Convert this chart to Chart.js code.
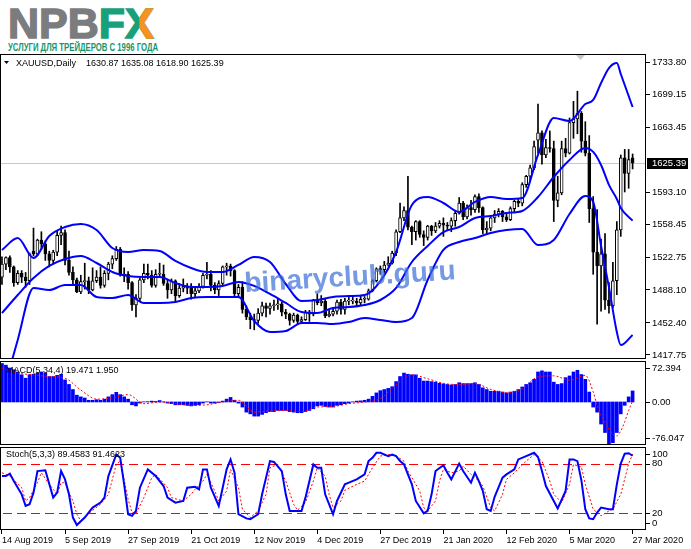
<!DOCTYPE html>
<html>
<head>
<meta charset="utf-8">
<script src="https://cdn.jsdelivr.net/npm/chart.js@4.4.1/dist/chart.umd.min.js"></script>
<style>
    body { margin: 0; background: #fff; width: 691px; height: 549px; overflow: hidden; position: relative; }
    canvas { position: absolute; left: 0; }
    #logo { position: absolute; left: 8px; top: 2px; font: bold 43px/43px 'Liberation Sans', Arial, sans-serif; white-space: nowrap; }
    #logo span { -webkit-text-stroke: 1.4px currentColor; }
    #logo .grey { color: #7b7c7e; }
    #logo .green { color: #17a07a; }
    #logo .xwrap { position: relative; display: inline-block; -webkit-text-stroke: 0; }
    #logo .xo { position: absolute; left: 0; top: 0; color: #f39322; clip-path: inset(0 0 0 50%); }
    #slogan { position: absolute; left: 8px; top: 41px; font: bold 11px/12px 'Liberation Sans', Arial, sans-serif; color: #13966c; white-space: nowrap; transform: scaleX(0.705); transform-origin: 0 0; }
</style>
</head>
<body>
<div id="logo"><span class="grey">NPB</span><span class="green">F</span><span class="xwrap"><span class="green">X</span><span class="xo">X</span></span></div>
<div id="slogan">УСЛУГИ ДЛЯ ТРЕЙДЕРОВ С 1996 ГОДА</div>
<canvas id="mainChart" width="691" height="308" style="top:54px"></canvas>
<canvas id="macdChart" width="691" height="84" style="top:361px"></canvas>
<canvas id="stochChart" width="691" height="102" style="top:447px"></canvas>
<script>
// XAUUSD daily, 14 Aug 2019 - 27 Mar 2020 (bar index 0..160)
const dateTickIdx = [0, 16, 32, 48, 64, 80, 96, 112, 128, 144, 160];
const dateLabels = ['14 Aug 2019', '5 Sep 2019', '27 Sep 2019', '21 Oct 2019', '12 Nov 2019', '4 Dec 2019',
    '27 Dec 2019', '21 Jan 2020', '12 Feb 2020', '5 Mar 2020', '27 Mar 2020'];

const openPrices = [
    1502, 1516, 1523, 1513, 1496, 1506, 1502, 1498, 1530, 1527,
    1542, 1538, 1527, 1520, 1529, 1547, 1550, 1520, 1507, 1499,
    1486, 1497, 1498, 1488, 1498, 1502, 1493, 1506, 1516, 1522,
    1532, 1504, 1505, 1496, 1472, 1479, 1499, 1506, 1504, 1493,
    1505, 1505, 1495, 1488, 1498, 1482, 1490, 1492, 1490, 1484,
    1487, 1492, 1504, 1505, 1493, 1488, 1495, 1513, 1514, 1509,
    1484, 1491, 1467, 1459, 1456, 1455, 1463, 1471, 1468, 1471,
    1472, 1473, 1464, 1462, 1455, 1461, 1454, 1456, 1464, 1462,
    1477, 1474, 1476, 1460, 1462, 1465, 1475, 1467, 1476, 1476,
    1476, 1474, 1478, 1478, 1487, 1498, 1511, 1510, 1515, 1517,
    1528, 1551, 1566, 1574, 1556, 1551, 1562, 1548, 1545, 1557,
    1552, 1557, 1560, 1558, 1557, 1563, 1571, 1582, 1567, 1577,
    1575, 1589, 1577, 1553, 1555, 1566, 1570, 1573, 1567, 1564,
    1576, 1584, 1582, 1602, 1611, 1620, 1650, 1658, 1634, 1642,
    1641, 1585, 1593, 1641, 1636, 1669, 1673, 1679, 1649, 1636,
    1576, 1529, 1514, 1527, 1477, 1471, 1498, 1553, 1631, 1614,
    1630.87
];
const highPrices = [
    1524, 1524, 1525, 1514, 1509, 1509, 1507, 1528, 1555, 1543,
    1551, 1541, 1530, 1531, 1552, 1557, 1553, 1530, 1513, 1501,
    1504, 1517, 1502, 1512, 1509, 1513, 1509, 1518, 1525, 1535,
    1534, 1512, 1508, 1497, 1483, 1501, 1516, 1516, 1509, 1510,
    1517, 1515, 1499, 1500, 1499, 1495, 1500, 1495, 1495, 1490,
    1495, 1506, 1518, 1509, 1496, 1498, 1514, 1517, 1516, 1510,
    1494, 1497, 1471, 1463, 1462, 1468, 1475, 1474, 1474, 1477,
    1478, 1475, 1467, 1463, 1463, 1462, 1459, 1466, 1466, 1478,
    1484, 1482, 1479, 1466, 1469, 1477, 1478, 1479, 1480, 1481,
    1479, 1482, 1481, 1489, 1499, 1512, 1514, 1519, 1524, 1530,
    1553, 1582, 1578, 1611, 1557, 1563, 1563, 1552, 1558, 1558,
    1561, 1563, 1566, 1561, 1566, 1574, 1588, 1584, 1580, 1585,
    1591, 1592, 1578, 1562, 1567, 1574, 1576, 1574, 1572, 1578,
    1585, 1586, 1604, 1612, 1623, 1649, 1689, 1660, 1651, 1660,
    1649, 1611, 1649, 1652, 1674, 1692, 1703, 1681, 1670, 1655,
    1589, 1575, 1543, 1549, 1496, 1518, 1562, 1634, 1640, 1640,
    1635.08
];
const lowPrices = [
    1494, 1510, 1507, 1492, 1494, 1496, 1491, 1494, 1525, 1525,
    1532, 1520, 1513, 1517, 1525, 1537, 1515, 1504, 1494, 1485,
    1484, 1489, 1484, 1487, 1496, 1490, 1491, 1499, 1511, 1520,
    1503, 1497, 1489, 1466, 1459, 1476, 1496, 1500, 1491, 1491,
    1502, 1493, 1479, 1484, 1476, 1480, 1486, 1484, 1478, 1480,
    1485, 1490, 1500, 1487, 1484, 1482, 1493, 1504, 1503, 1481,
    1480, 1463, 1456, 1446, 1445, 1452, 1460, 1459, 1462, 1466,
    1467, 1460, 1457, 1450, 1453, 1451, 1452, 1455, 1454, 1460,
    1472, 1471, 1458, 1459, 1460, 1462, 1462, 1462, 1472, 1473,
    1471, 1472, 1474, 1477, 1486, 1497, 1505, 1507, 1514, 1516,
    1525, 1550, 1563, 1553, 1537, 1542, 1545, 1536, 1542, 1547,
    1550, 1555, 1546, 1552, 1551, 1557, 1570, 1564, 1565, 1569,
    1572, 1572, 1549, 1548, 1552, 1561, 1567, 1562, 1562, 1563,
    1572, 1578, 1579, 1599, 1605, 1618, 1636, 1624, 1631, 1637,
    1562, 1578, 1591, 1632, 1635, 1652, 1657, 1637, 1633, 1561,
    1505, 1451, 1465, 1467, 1463, 1469, 1483, 1546, 1594, 1598,
    1618.90
];
const closePrices = [
    1516, 1523, 1513, 1496, 1506, 1502, 1498, 1527, 1527, 1542,
    1538, 1527, 1520, 1529, 1547, 1550, 1520, 1507, 1499, 1486,
    1497, 1498, 1488, 1498, 1502, 1493, 1506, 1516, 1522, 1532,
    1504, 1505, 1496, 1472, 1479, 1499, 1506, 1504, 1493, 1505,
    1505, 1495, 1488, 1498, 1482, 1490, 1492, 1490, 1484, 1487,
    1492, 1504, 1505, 1493, 1488, 1495, 1513, 1514, 1509, 1484,
    1491, 1467, 1459, 1456, 1455, 1463, 1471, 1468, 1471, 1472,
    1473, 1464, 1462, 1455, 1461, 1454, 1456, 1464, 1462, 1477,
    1474, 1476, 1460, 1462, 1465, 1475, 1467, 1476, 1476, 1476,
    1474, 1478, 1478, 1487, 1498, 1511, 1510, 1515, 1517, 1528,
    1551, 1566, 1574, 1556, 1551, 1562, 1548, 1545, 1557, 1552,
    1557, 1560, 1558, 1557, 1563, 1571, 1582, 1567, 1577, 1575,
    1589, 1577, 1553, 1555, 1566, 1570, 1573, 1567, 1564, 1576,
    1584, 1582, 1602, 1611, 1620, 1643, 1658, 1634, 1642, 1641,
    1585, 1593, 1641, 1636, 1669, 1673, 1679, 1649, 1636, 1576,
    1529, 1514, 1527, 1477, 1471, 1498, 1553, 1631, 1614, 1629,
    1625.39
];

// Bollinger bands at these bar indices
const bandIdx = [0, 4, 8, 12, 16, 20, 24, 28, 32, 36, 40, 44, 48, 52, 56, 60, 64, 68, 72, 76,
    80, 84, 88, 92, 96, 100, 104, 108, 112, 116, 120, 124, 128, 132, 136, 140, 144, 148,
    150, 152, 154, 156, 157, 160];
const bandUpper = [1531.3, 1544.2, 1522.6, 1546.4, 1556.1, 1559.4, 1552.9, 1533.4, 1529.1, 1531.3,
    1530.2, 1519.4, 1511.8, 1507.5, 1507.5, 1515.1, 1523.7, 1518.3, 1494.5, 1476.1,
    1477.2, 1480.5, 1481.5, 1482.6, 1497.7, 1529.1, 1579.9, 1588.6, 1582.1, 1572.4,
    1583.2, 1588.6, 1586.4, 1587.5, 1634.0, 1674.0, 1670.8, 1689.1,
    1693.5, 1711.8, 1728.0, 1733.5, 1721.6, 1685.9];
const bandMiddle = [1463.1, 1482.6, 1501.0, 1514.0, 1521.5, 1524.8, 1517.2, 1507.5, 1503.2, 1502.1,
    1502.1, 1495.6, 1491.3, 1491.3, 1492.4, 1496.7, 1492.4, 1483.7, 1474.0, 1464.2,
    1463.1, 1468.6, 1469.6, 1471.8, 1477.2, 1490.2, 1518.3, 1535.6, 1550.7, 1556.1,
    1565.9, 1568.0, 1571.3, 1573.5, 1588.6, 1610.2, 1628.6, 1641.6,
    1637.3, 1623.2, 1601.6, 1586.4, 1576.7, 1563.0];
const bandLower = [1372.3, 1434.0, 1490.2, 1488.0, 1493.4, 1493.4, 1480.5, 1479.4, 1482.6, 1474.0,
    1474.0, 1475.1, 1479.4, 1480.5, 1480.5, 1480.5, 1454.5, 1442.6, 1443.7, 1452.3,
    1452.3, 1451.2, 1453.4, 1457.7, 1455.6, 1453.4, 1457.7, 1498.8, 1531.3, 1539.9,
    1544.2, 1549.7, 1552.9, 1554.0, 1536.7, 1542.1, 1570.2, 1589.7,
    1583.2, 1535.6, 1491.1, 1442.6, 1428.5, 1439.4];

const priceTicks = [1733.80, 1699.15, 1663.45, 1593.10, 1558.45, 1522.75, 1488.10, 1452.40, 1417.75];
const lastPrice = 1625.39;

// MACD(5,34,4): one histogram value per bar, signal read at these bars
const macdValues = [
    68, 65, 60, 57, 53, 48, 42, 48, 49, 51,
    53, 51, 45, 45, 47, 49, 39, 31, 22, 12,
    9, 7, 3, 3, 4, 3, 5, 9, 13, 17,
    13, 9, 5, -5, -7, -2, 0.3, 0.5, 1.5, 1,
    2.5, 0.3, -2, -3, -5, -5, -5, -6, -7, -6,
    -5, -2, 0.3, -2, -2, -1, 1.5, 5, 8, 3,
    -2, -9, -18, -21, -25, -25, -22, -19, -17, -17,
    -15, -15, -15, -17, -18, -19, -19, -17, -15, -12,
    -7, -6, -8, -9, -9, -6, -5, -3, -2, 0.3,
    1.5, 2, 3, 5, 10, 16, 20, 22, 24, 27,
    36, 45, 51, 49, 48, 48, 42, 37, 37, 36,
    35, 33, 32, 31, 30, 31, 34, 32.5, 32.5, 32.5,
    34, 31, 25, 22, 19, 19, 19, 17.5, 16, 17.5,
    19, 22, 26.5, 31, 34, 40, 53, 55, 53, 53,
    35, 31, 32.5, 43, 46, 53, 56, 48.5, 40, 17.5,
    -9, -18, -39, -54, -76.047, -72, -54, -21, -6, 9,
    19.471
];
const macdSignalIdx = [0, 4, 8, 12, 16, 20, 24, 28, 32, 36, 40, 44, 48, 52, 56, 60, 64, 68, 72, 76,
    80, 84, 88, 92, 96, 100, 104, 108, 112, 116, 120, 124, 128, 132, 136, 140, 144, 148,
    150, 151, 153, 155, 156, 157, 158, 159, 160];
const macdSignal = [60, 51, 48, 45, 42, 21, 5, 7, 13, -3, 0, -3, -6, -5, 0, 3, -18, -16, -15, -17,
    -9, -8, -3, 0, 6, 30, 48, 41, 33, 30.6, 32.5, 22.3, 16.4, 23.5, 44.4, 46.2, 38.4, 47,
    18, -6, -36, -57, -60, -51, -35, -15, 1.95];
const macdRange = [-76.047, 72.394];
const macdAxisLabels = [72.394, 0, -76.047];

// Stochastic(5,3,3)
const stochMainIdx = [0, 1, 2, 3, 5, 6, 7, 8, 9, 11, 13, 14, 15, 16, 17, 18, 19, 21, 23, 25,
    26, 27, 29, 30, 31, 32, 33, 34, 35, 37, 39, 41, 42, 44, 46, 47, 49, 50, 51, 52,
    53, 55, 56, 57, 58, 59, 60, 62, 63, 65, 66, 68, 69, 71, 72, 73, 74, 76, 77, 79,
    80, 81, 82, 84, 85, 87, 88, 90, 92, 93, 94, 95, 96, 98, 99, 100, 101, 102, 104, 105,
    107, 108, 109, 110, 112, 113, 114, 116, 117, 119, 120, 121, 122, 123, 124, 125, 127, 128, 130, 131,
    133, 135, 136, 137, 138, 140, 141, 143, 144, 145, 146, 147, 148, 149, 150, 151, 152, 154, 155, 156,
    157, 158, 159, 160];
const stochMain = [65, 65, 68, 59, 43, 29, 31, 45, 71, 72, 39, 45, 71, 61, 43, 15, 6, 15, 27, 33,
    39, 65, 91, 87, 55, 19, 17, 23, 51, 73, 65, 53, 39, 33, 35, 51, 52, 49, 73, 73,
    51, 29, 51, 73, 85, 69, 19, 14, 13, 19, 43, 83, 82, 71, 43, 23, 23, 23, 39, 79,
    75, 75, 43, 19, 35, 55, 57, 61, 67, 83, 87, 93, 93, 89, 91, 89, 83, 79, 55, 35,
    20, 23, 43, 71, 78, 69, 61, 80, 71, 57, 69, 59, 47, 25, 23, 40, 63, 67, 73, 85,
    89, 93, 88, 71, 53, 35, 26, 47, 85, 85, 83, 60, 25, 14, 13, 21, 27, 25, 25, 55,
    80, 92, 92.5, 89.4583];
const stochSignalIdx = [0, 2, 5, 6, 7, 9, 10, 12, 14, 15, 16, 17, 18, 19, 20, 22, 25, 27, 29, 30,
    32, 33, 34, 36, 38, 39, 42, 43, 46, 48, 49, 51, 52, 54, 55, 57, 58, 60, 61, 63,
    65, 67, 68, 70, 72, 74, 75, 77, 79, 80, 82, 83, 84, 86, 87, 90, 92, 94, 96, 98,
    100, 102, 103, 106, 107, 108, 110, 111, 112, 114, 116, 117, 119, 121, 122, 124, 125, 127, 128, 130,
    133, 135, 137, 139, 140, 142, 144, 145, 147, 148, 150, 152, 154, 155, 157, 159, 160];
const stochSignal = [69, 65, 51, 35, 39, 57, 69, 55, 43, 57, 57, 45, 35, 19, 11, 20, 31, 43, 79, 83,
    37, 21, 20, 39, 63, 67, 51, 39, 35, 43, 49, 59, 67, 47, 35, 47, 73, 51, 25, 15,
    23, 43, 75, 79, 59, 31, 24, 33, 59, 75, 65, 43, 27, 35, 48, 55, 59, 75, 89, 91,
    89, 83, 71, 47, 27, 23, 35, 59, 73, 69, 71, 77, 67, 59, 53, 27, 23, 43, 61, 69,
    83, 91, 83, 59, 43, 33, 55, 79, 76, 55, 25, 17, 23, 25, 43, 80, 91.4623];
const stochAxisLabels = [100, 80, 20, 0];
const stochLevels = [80, 20];

const fontFamily = "'Liberation Sans', Arial, sans-serif";
Chart.defaults.font.family = fontFamily;
Chart.defaults.color = '#000';

function points(idx, values) {
    return idx.map((x, k) => ({ x: x, y: values[k] }));
}

function dateAxis(show) {
    return {
        type: 'linear',
        min: -0.5,
        max: 163.4,
        offset: false,
        display: show,
        border: { display: false },
        grid: { drawOnChartArea: false, offset: false, color: '#000', tickLength: 4 },
        afterBuildTicks: scale => { scale.ticks = dateTickIdx.map(v => ({ value: v })); },
        afterFit: scale => {
            scale.height = show ? 19 : 0;
            scale.paddingLeft = 0;
            scale.paddingRight = 0;
        },
        ticks: {
            autoSkip: false,
            maxRotation: 0,
            minRotation: 0,
            align: 'start',
            padding: 1,
            font: { size: 9 },
            callback: value => dateLabels[dateTickIdx.indexOf(value)]
        }
    };
}

function fitRightAxis(scale) {
    scale.width = 45;
    scale.paddingTop = 0;
    scale.paddingBottom = 0;
}

function sideAxis(min, max) {
    return {
        type: 'linear',
        position: 'right',
        min: min,
        max: max,
        border: { display: false },
        grid: { display: false },
        ticks: { display: false },
        afterFit: fitRightAxis
    };
}

function baseOptions(x, y) {
    return {
        responsive: false,
        animation: false,
        events: [],
        layout: { padding: 0 },
        plugins: { legend: { display: false }, tooltip: { enabled: false } },
        scales: { x: x, y: y }
    };
}

const frame = {
    id: 'frame',
    afterDraw(chart) {
        const { ctx, chartArea: a } = chart;
        ctx.save();
        ctx.strokeStyle = '#000';
        ctx.lineWidth = 1;
        ctx.strokeRect(a.left + 0.5, a.top + 0.5, a.right - a.left - 1, a.bottom - a.top - 1);
        ctx.restore();
    }
};

function sideLabels(values, format) {
    return {
        id: 'sideLabels',
        afterDraw(chart) {
            const { ctx, chartArea: a, scales: { y } } = chart;
            ctx.save();
            ctx.font = '9.5px ' + fontFamily;
            ctx.fillStyle = '#000';
            ctx.strokeStyle = '#000';
            ctx.textBaseline = 'middle';
            values.forEach(v => {
                let py = y.getPixelForValue(v);
                py = Math.min(Math.max(py, a.top + 7), a.bottom - 7);
                const ly = Math.round(py) + 0.5;
                ctx.beginPath();
                ctx.moveTo(a.right, ly);
                ctx.lineTo(a.right + 4, ly);
                ctx.stroke();
                ctx.fillText(format(v), a.right + 6, py);
            });
            ctx.restore();
        }
    };
}

function panelTitle(text, y) {
    return {
        id: 'panelTitle',
        afterDraw(chart) {
            const ctx = chart.ctx;
            ctx.save();
            ctx.font = '9px ' + fontFamily;
            ctx.fillStyle = '#000';
            ctx.textBaseline = 'middle';
            ctx.fillText(text, 6, y);
            ctx.restore();
        }
    };
}

const mainDecor = {
    id: 'mainDecor',
    beforeDatasetsDraw(chart) {
        const { ctx, chartArea: a, scales: { y } } = chart;
        const py = Math.round(y.getPixelForValue(lastPrice)) + 0.5;
        ctx.save();
        ctx.strokeStyle = '#c8c8c8';
        ctx.lineWidth = 1;
        ctx.beginPath();
        ctx.moveTo(a.left, py);
        ctx.lineTo(a.right, py);
        ctx.stroke();
        ctx.restore();
    },
    afterDraw(chart) {
        const { ctx, chartArea: a, scales: { y } } = chart;
        ctx.save();

        // watermark
        ctx.translate(245, 238);
        ctx.rotate(-0.06);
        ctx.font = 'bold 28px ' + fontFamily;
        ctx.fillStyle = 'rgba(60, 110, 215, 0.7)';
        ctx.fillText('binaryclub.guru', 0, 0);
        ctx.setTransform(1, 0, 0, 1, 0, 0);

        // chart shift marker
        ctx.fillStyle = '#c8c8c8';
        ctx.beginPath();
        ctx.moveTo(576, 1);
        ctx.lineTo(585, 1);
        ctx.lineTo(580.5, 6);
        ctx.closePath();
        ctx.fill();

        // symbol header
        ctx.fillStyle = '#000';
        ctx.beginPath();
        ctx.moveTo(4, 7);
        ctx.lineTo(9, 7);
        ctx.lineTo(6.5, 10);
        ctx.closePath();
        ctx.fill();
        ctx.font = '9px ' + fontFamily;
        ctx.textBaseline = 'middle';
        ctx.fillText('XAUUSD,Daily', 16, 9.5);
        const n = closePrices.length - 1;
        const ohlc = [openPrices[n], highPrices[n], lowPrices[n], closePrices[n]];
        ctx.fillText(ohlc.map(v => v.toFixed(2)).join(' '), 86, 9.5);

        // last price box
        const py = y.getPixelForValue(lastPrice);
        ctx.fillStyle = '#000';
        ctx.fillRect(a.right + 1, Math.round(py) - 5, 41, 11);
        ctx.fillStyle = '#fff';
        ctx.font = '9.5px ' + fontFamily;
        ctx.fillText(lastPrice.toFixed(2), a.right + 6, Math.round(py) + 0.5);
        ctx.restore();
    }
};

const stochLevelLines = {
    id: 'stochLevelLines',
    beforeDatasetsDraw(chart) {
        const { ctx, chartArea: a, scales: { y } } = chart;
        ctx.save();
        ctx.strokeStyle = '#ff0000';
        ctx.lineWidth = 1;
        ctx.setLineDash([9, 5]);
        stochLevels.forEach(v => {
            const py = Math.round(y.getPixelForValue(v)) + 0.5;
            ctx.beginPath();
            ctx.moveTo(a.left + 3, py);
            ctx.lineTo(a.right, py);
            ctx.stroke();
        });
        ctx.restore();
    }
};

function renderPriceChart() {
    const wicks = closePrices.map((c, i) => ({ x: i, y: [lowPrices[i], highPrices[i]] }));
    const bodies = closePrices.map((c, i) => ({ x: i, y: [openPrices[i], c] }));
    const bodyColors = closePrices.map((c, i) => c >= openPrices[i] ? '#ffffff' : '#000000');

    const bandLine = values => ({
        type: 'line',
        data: points(bandIdx, values),
        borderColor: '#0000ff',
        borderWidth: 2,
        pointRadius: 0,
        cubicInterpolationMode: 'monotone',
        order: 0
    });

    const options = baseOptions(dateAxis(false), {
        type: 'linear',
        position: 'right',
        min: 1413.4,
        max: 1743.2,
        border: { display: false },
        grid: { drawOnChartArea: false, color: '#000', tickLength: 4 },
        afterBuildTicks: scale => { scale.ticks = priceTicks.map(v => ({ value: v })); },
        afterFit: fitRightAxis,
        ticks: { padding: 2, font: { size: 9.5 }, callback: v => v.toFixed(2) }
    });
    options.layout = { padding: { bottom: 3 } };

    new Chart(document.getElementById('mainChart').getContext('2d'), {
        type: 'bar',
        data: {
            datasets: [
                {
                    data: wicks,
                    backgroundColor: '#000000',
                    barThickness: 1,
                    grouped: false,
                    order: 3
                },
                {
                    data: bodies,
                    backgroundColor: bodyColors,
                    borderColor: '#000000',
                    borderWidth: 1,
                    borderSkipped: false,
                    barThickness: 3,
                    minBarLength: 1,
                    grouped: false,
                    order: 2
                },
                bandLine(bandUpper),
                bandLine(bandMiddle),
                bandLine(bandLower)
            ]
        },
        options: options,
        plugins: [mainDecor, frame]
    });
}

function renderMacdChart() {
    new Chart(document.getElementById('macdChart').getContext('2d'), {
        type: 'bar',
        data: {
            datasets: [
                {
                    data: macdValues.map((v, i) => ({ x: i, y: v })),
                    backgroundColor: '#0000ff',
                    barThickness: 3,
                    grouped: false,
                    order: 2
                },
                {
                    type: 'line',
                    data: points(macdSignalIdx, macdSignal),
                    borderColor: '#ff0000',
                    borderWidth: 1,
                    borderDash: [2, 2],
                    pointRadius: 0,
                    cubicInterpolationMode: 'monotone',
                    order: 1
                }
            ]
        },
        options: baseOptions(dateAxis(false), sideAxis(macdRange[0], macdRange[1])),
        plugins: [
            frame,
            sideLabels(macdAxisLabels, v => v === 0 ? '0.00' : v.toFixed(3)),
            panelTitle('MACD(5,34,4) ' + macdValues[macdValues.length - 1].toFixed(3) + ' ' +
                macdSignal[macdSignal.length - 1].toFixed(3), 10)
        ]
    });
}

function renderStochChart() {
    new Chart(document.getElementById('stochChart').getContext('2d'), {
        type: 'line',
        data: {
            datasets: [
                {
                    data: points(stochSignalIdx, stochSignal),
                    borderColor: '#ff0000',
                    borderWidth: 1,
                    borderDash: [2, 2],
                    pointRadius: 0,
                    tension: 0,
                    order: 2
                },
                {
                    data: points(stochMainIdx, stochMain),
                    borderColor: '#0000ff',
                    borderWidth: 2,
                    pointRadius: 0,
                    tension: 0,
                    order: 1
                }
            ]
        },
        options: baseOptions(dateAxis(true), sideAxis(0, 100)),
        plugins: [
            stochLevelLines,
            frame,
            sideLabels(stochAxisLabels, v => String(v)),
            panelTitle('Stoch(5,3,3) ' + stochMain[stochMain.length - 1].toFixed(4) + ' ' +
                stochSignal[stochSignal.length - 1].toFixed(4), 8)
        ]
    });
}

renderPriceChart();
renderMacdChart();
renderStochChart();
</script>
</body>
</html>
